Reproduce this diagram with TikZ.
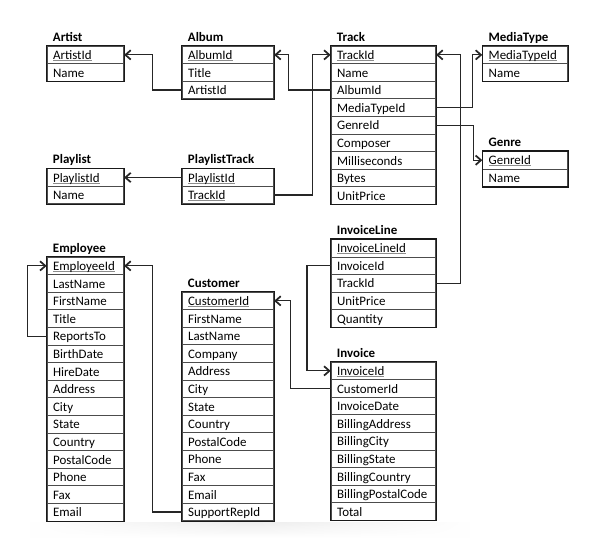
\documentclass[tikz,border=0pt]{standalone}
\usepackage{fontspec}
\setmainfont{Carlito}
\usetikzlibrary{arrows.meta,fadings}

% primary-key underline: grey rule just under the baseline, black text
\newcommand\pk[1]{\setbox0=\hbox{#1}\rlap{\color{black!45}\rule[-1.1pt]{\wd0}{0.55pt}}\box0}

\tikzfading[name=fade sides, left color=transparent!100, right color=transparent!100, middle color=transparent!0]

% #1 name, #2 x, #3 y (top), #4 width, #5 title, #6 row count, #7 rows
\newcommand\erTable[7]{%
  \node[tabletitle] (#1-title) at ({#2+6},{#3-4.6}) {#5};
  \foreach \r [count=\i] in {#7} {
    \node[tablerow, minimum width={#4*0.75pt}, text width={#4*0.75pt-9pt}]
      (#1-\i) at (#2,{#3+(\i-1)*17.6}) {\r};
  }
  \draw[tableframe] (#1-1.north west) rectangle (#1-#6.south east);
}

\begin{document}
\begin{tikzpicture}[x=0.75pt,y=-0.75pt,
  font=\fontsize{9.7}{11}\selectfont,
  tablerow/.style={draw=black!70, line width=0.6pt, anchor=north west,
    minimum height=13.2pt, inner xsep=4.5pt, inner ysep=0pt,
    text height=8.5pt, text depth=1.7pt, align=left},
  tableframe/.style={draw=black!90, line width=0.85pt},
  tabletitle/.style={anchor=base west, inner sep=0pt, font=\fontsize{9.7}{11}\selectfont\bfseries},
  fk/.style={draw=black!85, line width=0.9pt,
    -{Straight Barb[length=4pt,width=7pt,line width=1.3pt]}},
]
\useasboundingbox[fill=white] (0,0) rectangle (597,552);

% soft shadow under the bottom tables
\shade[top color=black!7, bottom color=white, path fading=fade sides]
  (30,522) rectangle (470,538);

\erTable{artist}{46.7}{45.7}{76.6}{Artist}{2}{\pk{ArtistId}, Name}
\erTable{album}{181.7}{45.7}{91.6}{Album}{3}{\pk{AlbumId}, Title, ArtistId}
\erTable{track}{330.7}{45.7}{104.6}{Track}{9}{\pk{TrackId}, Name, AlbumId, MediaTypeId, GenreId, Composer, Milliseconds, Bytes, UnitPrice}
\erTable{mediatype}{482.3}{45.7}{85}{MediaType}{2}{\pk{MediaTypeId}, Name}
\erTable{genre}{482.3}{151}{85}{Genre}{2}{\pk{GenreId}, Name}
\erTable{playlist}{46.7}{168.3}{76.6}{Playlist}{2}{\pk{PlaylistId}, Name}
\erTable{pltrack}{181.7}{168.3}{91.6}{PlaylistTrack}{2}{\pk{PlaylistId}, \pk{TrackId}}
\erTable{employee}{46.7}{256.7}{76.6}{Employee}{15}{\pk{EmployeeId}, LastName, FirstName, Title, ReportsTo, BirthDate, HireDate, Address, City, State, Country, PostalCode, Phone, Fax, Email}
\erTable{customer}{181.7}{291.7}{91.6}{Customer}{13}{\pk{CustomerId}, FirstName, LastName, Company, Address, City, State, Country, PostalCode, Phone, Fax, Email, SupportRepId}
\erTable{invline}{330.7}{239}{104.6}{InvoiceLine}{5}{\pk{InvoiceLineId}, InvoiceId, TrackId, UnitPrice, Quantity}
\erTable{invoice}{330.7}{361.7}{104.6}{Invoice}{9}{\pk{InvoiceId}, CustomerId, InvoiceDate, BillingAddress, BillingCity, BillingState, BillingCountry, BillingPostalCode, Total}

% foreign-key connectors
\draw[fk] (album-3.west) -- ++(-29.4,0) |- (artist-1.east);
\draw[fk] (track-3.west) -- ++(-42.4,0) |- (album-1.east);
\draw[fk] (pltrack-2.east) -- ++(38.4,0) |- (track-1.west);
\draw[fk] (pltrack-1.west) -- (playlist-1.east);
\draw[fk] (invline-3.east) -- ++(24.5,0) |- (track-1.east);
\draw[fk] (track-4.east) -- ++(36.5,0) |- (mediatype-1.west);
\draw[fk] (track-5.east) -- ++(37.5,0) |- (genre-1.west);
\draw[fk] (employee-5.west) -- ++(-19.5,0) |- (employee-1.west);
\draw[fk] (customer-13.west) -- ++(-29.4,0) |- (employee-1.east);
\draw[fk] (invoice-2.west) -- ++(-40.3,0) |- (customer-1.east);
\draw[fk] (invline-2.west) -- ++(-23.7,0) |- (invoice-1.west);
\end{tikzpicture}
\end{document}
